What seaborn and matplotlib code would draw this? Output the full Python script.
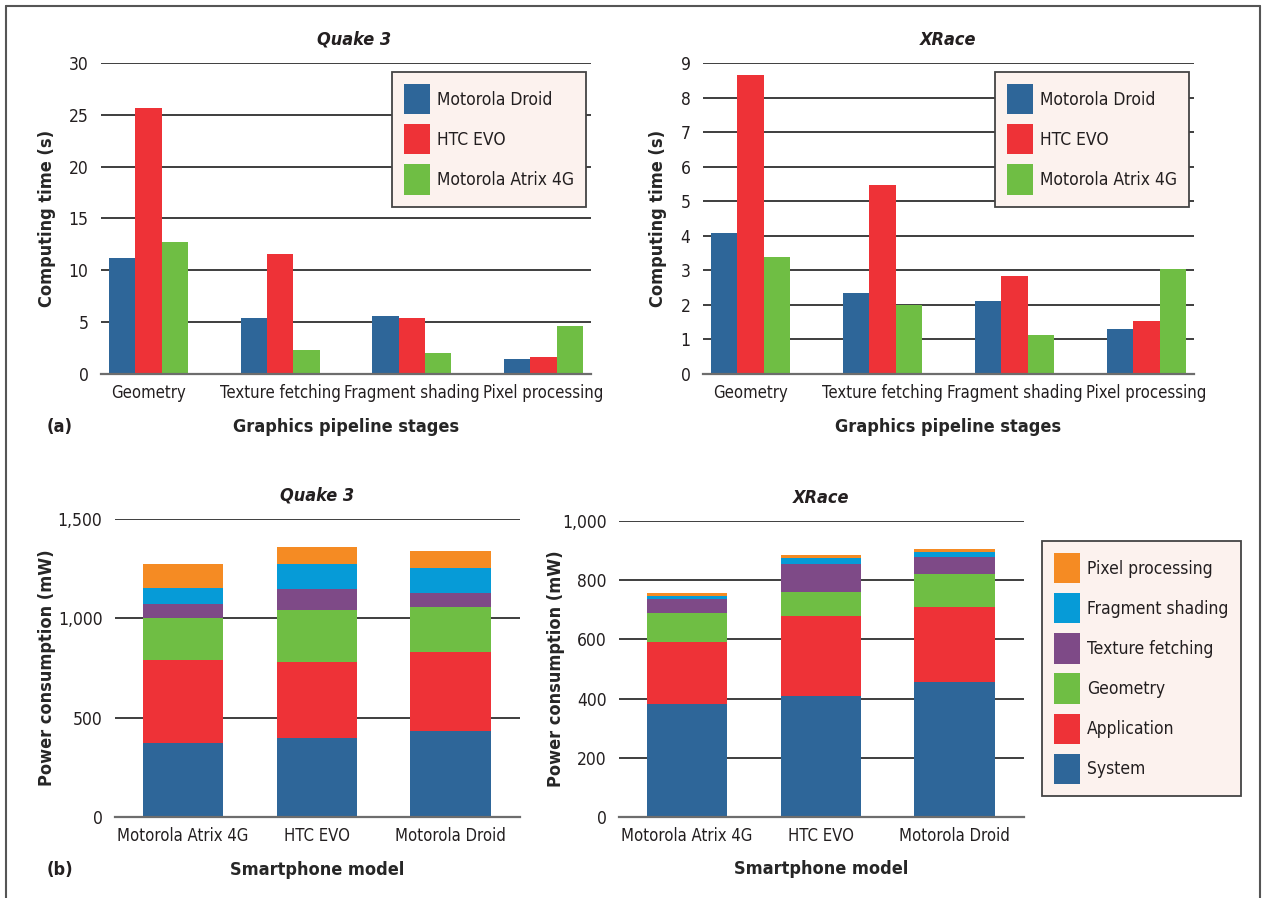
"""Graphics pipeline computing time and power consumption on three smartphones."""

import numpy as np
import pandas as pd
import matplotlib
matplotlib.use("Agg")
import matplotlib.pyplot as plt
import seaborn as sns
from matplotlib.lines import Line2D
from matplotlib.patches import Patch
from matplotlib.ticker import FuncFormatter

# ---- data ----
stages = ['Geometry', 'Texture fetching', 'Fragment shading', 'Pixel processing']
devices = ['Motorola Droid', 'HTC EVO', 'Motorola Atrix 4G']

quake_droid = [11.2, 5.4, 5.6, 1.4]
quake_htc = [25.7, 11.6, 5.4, 1.6]
quake_atrix = [12.75, 2.35, 2.05, 4.65]

xrace_droid = [4.09, 2.35, 2.12, 1.31]
xrace_htc = [8.66, 5.48, 2.85, 1.54]
xrace_atrix = [3.39, 2.0, 1.14, 3.04]

models = ['Motorola Atrix 4G', 'HTC EVO', 'Motorola Droid']
power_parts = ['System', 'Application', 'Geometry', 'Texture fetching',
               'Fragment shading', 'Pixel processing']

quake_system = [373, 400, 434]
quake_application = [418, 381, 397]
quake_geometry = [211, 261, 226]
quake_texture = [70, 106, 71]
quake_fragment = [81, 126, 125]
quake_pixel = [121, 85, 86]

xrace_system = [383, 410, 457]
xrace_application = [208, 269, 252]
xrace_geometry = [98, 81, 111]
xrace_texture = [47, 95, 57]
xrace_fragment = [10, 20, 17]
xrace_pixel = [10, 10, 13]

# ---- style ----
device_colors = ['#2e6699', '#ee3237', '#6fbe44']
part_colors = ['#2e6699', '#ee3237', '#6fbe44', '#7e4a87', '#069bd7', '#f58b23']
legend_face = '#fcf2ee'
grid_color = '#2f2f2f'

TICK_FS = 12
LEGEND_FS = 12.5
LABEL_FS = 13
TITLE_FS = 13

sns.set_style('white')
plt.rcParams['font.family'] = ['DejaVu Sans']
plt.rcParams['font.stretch'] = 'condensed'
plt.rcParams['text.color'] = '#231f20'
plt.rcParams['xtick.color'] = '#231f20'
plt.rcParams['ytick.color'] = '#231f20'

W, H = 1263, 898
fig = plt.figure(figsize=(W / 100, H / 100), dpi=100)

legend_kw = dict(fontsize=LEGEND_FS, frameon=True, fancybox=False, facecolor=legend_face,
                 edgecolor='#444444', framealpha=1, handlelength=1.5, handleheight=2.3,
                 handletextpad=0.4, labelspacing=0.57, borderpad=0.7, borderaxespad=0)


def px_axes(x0, x1, y0, y1):
    """Axes from pixel box (left, right, top, bottom)."""
    return fig.add_axes([x0 / W, 1 - y1 / H, (x1 - x0) / W, (y1 - y0) / H])


def style_axes(ax, yticks, fmt=None):
    ax.set_ylim(yticks[0], yticks[-1])
    ax.set_yticks(yticks)
    if fmt:
        ax.yaxis.set_major_formatter(FuncFormatter(fmt))
    ax.yaxis.grid(True, color=grid_color, linewidth=1.3)
    ax.set_axisbelow(True)
    for side in ['top', 'right', 'left']:
        ax.spines[side].set_visible(False)
    ax.spines['bottom'].set_color('#6d6d6d')
    ax.spines['bottom'].set_linewidth(1.6)
    ax.spines['bottom'].set_zorder(5)
    ax.tick_params(axis='y', length=0, pad=9, labelsize=12.5)
    ax.tick_params(axis='x', length=0, pad=7, labelsize=TICK_FS)


def time_panel(ax, droid, htc, atrix, title, yticks, title_x=0.5):
    df = pd.DataFrame({
        'stage': stages * 3,
        'device': [d for d in devices for _ in stages],
        'time': droid + htc + atrix,
    })
    sns.barplot(data=df, x='stage', y='time', hue='device', order=stages,
                hue_order=devices, palette=device_colors, width=0.6, gap=0,
                saturation=1, errorbar=None, linewidth=0, ax=ax)
    ax.set_xlim(-0.36, 3.36)
    style_axes(ax, yticks)
    ax.set_title(title, fontsize=TITLE_FS, fontweight='bold', style='italic',
                 x=title_x, y=1.074, va='center', pad=0)
    ax.set_xlabel('Graphics pipeline stages', fontsize=LABEL_FS, fontweight='bold', va='center')
    ax.xaxis.set_label_coords(0.5, -0.17)
    ax.set_ylabel('Computing time (s)', fontsize=LABEL_FS, fontweight='bold', va='center')
    leg = ax.legend(loc='upper left', bbox_to_anchor=(0.594, 0.971), **legend_kw)
    leg.get_frame().set_linewidth(1.3)


def power_panel(ax, parts, title, yticks, fmt):
    cum = np.cumsum(np.array(parts), axis=0)
    # draw tallest cumulative first so each lower part overlays it
    for level in range(len(parts) - 1, -1, -1):
        sns.barplot(x=models, y=cum[level], order=models, color=part_colors[level],
                    width=0.6, saturation=1, errorbar=None, linewidth=0, ax=ax)
    ax.set_xlim(-0.51, 2.52)
    style_axes(ax, yticks, fmt)
    ax.set_title(title, fontsize=TITLE_FS, fontweight='bold', style='italic',
                 y=1.078, va='center', pad=0)
    ax.set_xlabel('Smartphone model', fontsize=LABEL_FS, fontweight='bold', va='center')
    ax.xaxis.set_label_coords(0.5, -0.177)
    ax.set_ylabel('Power consumption (mW)', fontsize=LABEL_FS, fontweight='bold', va='center')


comma = lambda v, _: f'{int(v):,}'

# (a) computing time
ax1 = px_axes(101, 591, 63, 374)
time_panel(ax1, quake_droid, quake_htc, quake_atrix, 'Quake 3', list(range(0, 31, 5)), title_x=0.517)
ax1.yaxis.set_label_coords(-0.11, 0.5)

ax2 = px_axes(703, 1194, 63, 374)
time_panel(ax2, xrace_droid, xrace_htc, xrace_atrix, 'XRace', list(range(0, 10)))
ax2.yaxis.set_label_coords(-0.092, 0.5)

# (b) power consumption
ax3 = px_axes(115, 520, 519, 817)
power_panel(ax3, [quake_system, quake_application, quake_geometry, quake_texture,
                  quake_fragment, quake_pixel], 'Quake 3', [0, 500, 1000, 1500], comma)
ax3.yaxis.set_label_coords(-0.168, 0.5)

ax4 = px_axes(619, 1024, 521, 817)
power_panel(ax4, [xrace_system, xrace_application, xrace_geometry, xrace_texture,
                  xrace_fragment, xrace_pixel], 'XRace', list(range(0, 1001, 200)), comma)
ax4.yaxis.set_label_coords(-0.155, 0.5)

handles = [Patch(facecolor=c, edgecolor='none', label=l)
           for c, l in zip(part_colors, power_parts)][::-1]
leg = fig.legend(handles=handles, loc='upper left', bbox_to_anchor=(1042 / W, 1 - 541 / H),
                 **legend_kw)
leg.get_frame().set_linewidth(1.3)

# panel tags
fig.text(47 / W, 1 - 427 / H, '(a)', fontsize=LABEL_FS, fontweight='bold', va='center')
fig.text(47 / W, 1 - 870 / H, '(b)', fontsize=LABEL_FS, fontweight='bold', va='center')

# outer frame (open at the bottom)
frame_kw = dict(color='#555555', linewidth=1.5, transform=fig.transFigure)
fig.add_artist(Line2D([6 / W, 6 / W], [0, 1 - 6 / H], **frame_kw))
fig.add_artist(Line2D([6 / W, 1260 / W], [1 - 6 / H, 1 - 6 / H], **frame_kw))
fig.add_artist(Line2D([1260 / W, 1260 / W], [0, 1 - 6 / H], **frame_kw))

fig.savefig('out.png', dpi=100)
plt.close(fig)
